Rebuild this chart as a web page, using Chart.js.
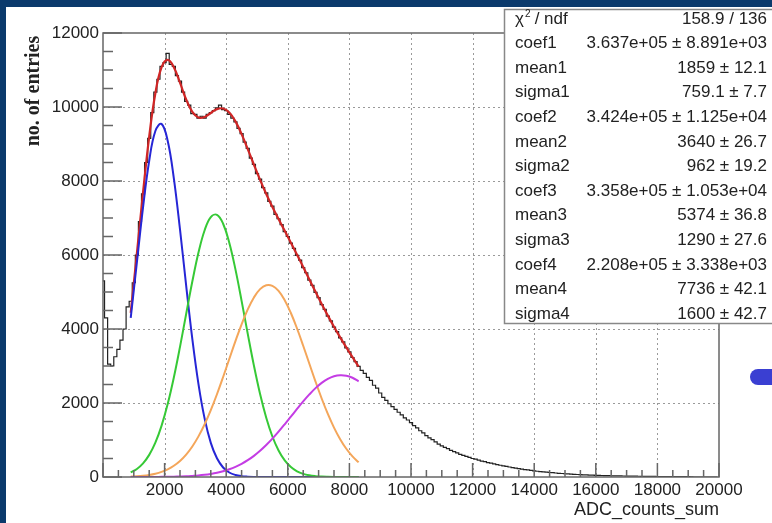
<!DOCTYPE html>
<html>
<head>
<meta charset="utf-8">
<script src="https://cdn.jsdelivr.net/npm/chart.js@4.4.1/dist/chart.umd.min.js"></script>
<style>
  html, body { margin: 0; padding: 0; background: #0b3a6c; overflow: hidden; }
  canvas { display: block; }
</style>
</head>
<body>
<canvas id="myChart" width="772" height="523"></canvas>
<script>
// histogram: 100-wide bins centred on 0, 100, ..., 19900 (counts per 50 ADC)
var binWidth = 100;
var histCounts = [
  5300, 4300, 3050, 3000, 3250, 3450, 3700, 4000, 4600, 4750,
  5250, 6000, 6900, 7650, 8500, 9150, 9850, 10400, 10750, 11100,
  11200, 11450, 11150, 11100, 10850, 10700, 10400, 10150, 10050, 9820,
  9800, 9700, 9750, 9700, 9800, 9850, 9900, 9980, 10050, 9930,
  9900, 9800, 9700, 9600, 9420, 9280, 9050, 8880, 8620, 8450,
  8200, 8050, 7820, 7680, 7450, 7320, 7100, 6980, 6820, 6630,
  6500, 6320, 6180, 5990, 5860, 5660, 5520, 5320, 5180, 4990,
  4850, 4660, 4530, 4350, 4220, 4050, 3930, 3760, 3650, 3490,
  3380, 3230, 3120, 2990, 2880, 2800, 2690, 2610, 2480, 2400,
  2270, 2150, 2070, 1980, 1900, 1830, 1750, 1680, 1600, 1540,
  1470, 1390, 1330, 1250, 1190, 1120, 1060, 1010, 950, 890,
  840, 800, 765, 720, 685, 650, 610, 585, 560, 530,
  500, 485, 455, 430, 415, 390, 375, 355, 335, 318,
  300, 288, 270, 256, 240, 228, 212, 202, 190, 178,
  166, 156, 146, 138, 130, 122, 116, 108, 100, 95,
  88, 83, 78, 72, 68, 63, 58, 55, 50, 48,
  45, 42, 40, 38, 36, 34, 32, 30, 28, 27,
  25, 24, 22, 21, 20, 19, 18, 17, 16, 15,
  14, 13, 12, 12, 11, 10, 10, 9, 9, 8,
  8, 7, 0, 0, 0, 0, 0, 0, 0, 0
];

// fit curves read at these ADC values
var fitX = [900, 1100, 1300, 1500, 1700, 1900, 2100, 2300, 2500, 2700, 2900, 3100, 3300, 3500, 3700, 3900, 4100, 4300, 4500,
  4700, 4900, 5100, 5300, 5500, 5700, 5900, 6100, 6300, 6500, 6700, 6900, 7100, 7300, 7500, 7700, 7900, 8100, 8300];
var fitTotal = [4439, 6036, 7693, 9202, 10371, 11068, 11271, 11077, 10656, 10203, 9869, 9717, 9732, 9839, 9942, 9960, 9852, 9611, 9267,
  8863, 8440, 8031, 7650, 7300, 6972, 6654, 6334, 6008, 5676, 5339, 5004, 4677, 4362, 4061, 3775, 3502, 3240, 2984];
var gaus1 = [4303, 5797, 7288, 8546, 9350, 9543, 9087, 8073, 6691, 5173, 3732, 2512, 1577, 923, 505, 257, 122, 54, 22,
  9, 3, 1, 0, 0, 0, 0, 0, 0, 0, 0, 0, 0, 0, 0, 0, 0, 0, 0];
var gaus2 = [123, 218, 369, 598, 929, 1383, 1971, 2691, 3518, 4405, 5282, 6066, 6670, 7025, 7086, 6845, 6333, 5611, 4761,
  3869, 3011, 2244, 1602, 1095, 717, 450, 270, 155, 85, 45, 23, 11, 5, 2, 1, 0, 0, 0];
var gaus3 = [13, 21, 35, 57, 90, 138, 207, 304, 434, 606, 826, 1098, 1426, 1808, 2237, 2703, 3189, 3672, 4128,
  4530, 4854, 5077, 5184, 5168, 5030, 4779, 4432, 4013, 3548, 3062, 2579, 2122, 1704, 1336, 1022, 763, 557, 397];
var gaus4 = [0, 1, 1, 1, 2, 4, 6, 9, 13, 19, 29, 41, 59, 83, 114, 155, 208, 274, 356,
  455, 572, 709, 864, 1037, 1225, 1425, 1632, 1840, 2043, 2232, 2402, 2544, 2653, 2723, 2752, 2739, 2683, 2587];

var statNames = ['coef1', 'mean1', 'sigma1', 'coef2', 'mean2', 'sigma2', 'coef3', 'mean3', 'sigma3', 'coef4', 'mean4', 'sigma4'];
var statValues = ['3.637e+05 \u00b1 8.891e+03', '1859 \u00b1 12.1', '759.1 \u00b1 7.7', '3.424e+05 \u00b1 1.125e+04',
  '3640 \u00b1 26.7', '962 \u00b1 19.2', '3.358e+05 \u00b1 1.053e+04', '5374 \u00b1 36.8', '1290 \u00b1 27.6',
  '2.208e+05 \u00b1 3.338e+03', '7736 \u00b1 42.1', '1600 \u00b1 42.7'];
var chi2Value = '158.9 / 136';

function pts(xs, ys) {
  return xs.map(function(x, i) { return {x: x, y: ys[i]}; });
}

// step line: each bin's value held from its low edge to its high edge
var histPts = histCounts.map(function(c, i) { return {x: Math.max(0, i * binWidth - binWidth / 2), y: c}; });
histPts.push({x: histCounts.length * binWidth - binWidth / 2, y: histCounts[histCounts.length - 1]});

var sans = "'Liberation Sans', Arial, sans-serif";

// ROOT style frame, inner ticks, dotted grid, stats box
var rootStyle = {
  id: 'rootStyle',
  beforeDraw: function(chart) {
    var c = chart.ctx;
    c.save();
    c.fillStyle = '#0b3a6c';
    c.fillRect(0, 0, chart.width, chart.height);
    c.fillStyle = '#ffffff';
    c.fillRect(6, 7, chart.width - 6, chart.height - 7);
    c.restore();
  },
  beforeDatasetsDraw: function(chart) {
    var c = chart.ctx, a = chart.chartArea, xs = chart.scales.x, ys = chart.scales.y;
    c.save();
    c.strokeStyle = '#9a9a9a';
    c.lineWidth = 1;
    c.setLineDash([2, 3]);
    for (var v = 2000; v < 20000; v += 2000) {
      var px = Math.round(xs.getPixelForValue(v)) + 0.5;
      c.beginPath(); c.moveTo(px, a.top); c.lineTo(px, a.bottom); c.stroke();
    }
    for (var w = 2000; w < 12000; w += 2000) {
      var py = Math.round(ys.getPixelForValue(w)) + 0.5;
      c.beginPath(); c.moveTo(a.left, py); c.lineTo(a.right, py); c.stroke();
    }
    c.restore();
  },
  afterDatasetsDraw: function(chart) {
    var c = chart.ctx, a = chart.chartArea, xs = chart.scales.x, ys = chart.scales.y;
    c.save();
    c.strokeStyle = '#666';
    c.lineWidth = 1.5;
    c.strokeRect(a.left, a.top, a.right - a.left, a.bottom - a.top);
    c.beginPath();
    for (var v = 0; v <= 20000; v += 500) {
      var px = xs.getPixelForValue(v);
      var len = (v % 2000 === 0) ? 14 : 7;
      c.moveTo(px, a.bottom); c.lineTo(px, a.bottom - len);
    }
    for (var w = 0; w <= 12000; w += 500) {
      var py = ys.getPixelForValue(w);
      var l2 = (w % 2000 === 0) ? 19 : 10;
      c.moveTo(a.left, py); c.lineTo(a.left + l2, py);
    }
    c.stroke();
    c.restore();
  },
  afterDraw: function(chart) {
    var c = chart.ctx, a = chart.chartArea;
    c.save();
    // axis titles
    c.fillStyle = '#222';
    c.font = "bold 20px 'Liberation Serif', 'Times New Roman', serif";
    c.textAlign = 'center';
    c.textBaseline = 'middle';
    c.translate(34, 91);
    c.rotate(-Math.PI / 2);
    c.fillText('no. of entries', 0, 0);
    c.setTransform(1, 0, 0, 1, 0, 0);
    c.font = '18px ' + sans;
    c.textAlign = 'right';
    c.fillText('ADC_counts_sum', a.right, 510);

    // stats box
    var bx = 504, by = 9, bw = 290, bh = 314;
    c.fillStyle = '#fff';
    c.fillRect(bx, by, bw, bh);
    c.strokeStyle = '#888';
    c.lineWidth = 1.5;
    c.strokeRect(bx + 0.5, by + 0.5, bw, bh);
    c.fillStyle = '#222';
    c.font = '17px ' + sans;
    c.textBaseline = 'middle';
    var rowH = 24.6, y0 = 19;
    c.textAlign = 'left';
    c.fillText('\u03c7', 515, y0);
    var chiW = c.measureText('\u03c7').width;
    c.font = '10px ' + sans;
    c.fillText('2', 515 + chiW + 1, y0 - 5);
    c.font = '17px ' + sans;
    c.fillText(' / ndf', 515 + chiW + 6, y0);
    c.textAlign = 'right';
    c.fillText(chi2Value, 767, y0);
    for (var i = 0; i < statNames.length; i++) {
      var yy = y0 + rowH * (i + 1);
      c.textAlign = 'left';
      c.fillText(statNames[i], 515, yy);
      c.textAlign = 'right';
      c.fillText(statValues[i], 767, yy);
    }

    // slide decoration at right edge
    c.fillStyle = '#3a3fd2';
    c.beginPath();
    c.moveTo(758, 369);
    c.lineTo(780, 369);
    c.lineTo(780, 385);
    c.lineTo(758, 385);
    c.arc(758, 377, 8, Math.PI / 2, Math.PI * 1.5);
    c.fill();
    c.restore();
  }
};

function curve(data, color, width) {
  return {
    data: data,
    borderColor: color,
    borderWidth: width,
    pointRadius: 0,
    tension: 0.4,
    fill: false
  };
}

var ctx = document.getElementById('myChart').getContext('2d');
var myChart = new Chart(ctx, {
  type: 'line',
  data: {
    datasets: [
      curve(pts(fitX, gaus4), '#c43ce4', 2),
      curve(pts(fitX, gaus3), '#f4a65a', 2),
      curve(pts(fitX, gaus2), '#36c936', 2),
      curve(pts(fitX, gaus1), '#2626d6', 2),
      curve(pts(fitX, fitTotal), '#d02626', 2.2),
      {
        data: histPts,
        borderColor: '#222',
        borderWidth: 1.2,
        pointRadius: 0,
        stepped: 'before',
        fill: false
      }
    ]
  },
  plugins: [rootStyle],
  options: {
    responsive: false,
    animation: false,
    layout: { padding: { left: 0, top: 33, right: 53, bottom: 0 } },
    plugins: { legend: { display: false }, tooltip: { enabled: false } },
    scales: {
      x: {
        type: 'linear',
        min: 0,
        max: 20000,
        grid: { display: false, drawTicks: false },
        border: { display: false },
        ticks: {
          stepSize: 2000,
          color: '#222',
          padding: 3,
          maxRotation: 0,
          font: { family: sans, size: 17 },
          callback: function(v) { return v === 0 ? '' : String(v); }
        },
        afterFit: function(s) { s.height = 46; }
      },
      y: {
        min: 0,
        max: 12000,
        grid: { display: false, drawTicks: false },
        border: { display: false },
        ticks: {
          stepSize: 2000,
          color: '#222',
          padding: 4,
          font: { family: sans, size: 17 },
          callback: function(v) { return String(v); }
        },
        afterFit: function(s) { s.width = 103; }
      }
    }
  }
});
</script>
</body>
</html>
